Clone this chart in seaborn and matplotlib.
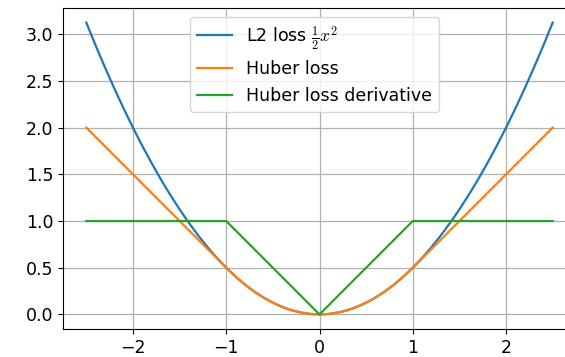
import numpy as np
import pandas as pd
import matplotlib
matplotlib.use("Agg")
import matplotlib.pyplot as plt
import seaborn as sns

# x sample positions
x = [-2.5, -2.4, -2.3, -2.2, -2.1, -2.0, -1.9, -1.8, -1.7, -1.6, -1.5, -1.4, -1.3,
     -1.2, -1.1, -1.0, -0.9, -0.8, -0.7, -0.6, -0.5, -0.4, -0.3, -0.2, -0.1, 0.0,
     0.1, 0.2, 0.3, 0.4, 0.5, 0.6, 0.7, 0.8, 0.9, 1.0, 1.1, 1.2, 1.3, 1.4, 1.5,
     1.6, 1.7, 1.8, 1.9, 2.0, 2.1, 2.2, 2.3, 2.4, 2.5]

l2_loss = [3.125, 2.88, 2.645, 2.42, 2.205, 2.0, 1.805, 1.62, 1.445, 1.28, 1.125,
           0.98, 0.845, 0.72, 0.605, 0.5, 0.405, 0.32, 0.245, 0.18, 0.125, 0.08,
           0.045, 0.02, 0.005, 0.0, 0.005, 0.02, 0.045, 0.08, 0.125, 0.18, 0.245,
           0.32, 0.405, 0.5, 0.605, 0.72, 0.845, 0.98, 1.125, 1.28, 1.445, 1.62,
           1.805, 2.0, 2.205, 2.42, 2.645, 2.88, 3.125]

huber_loss = [2.0, 1.9, 1.8, 1.7, 1.6, 1.5, 1.4, 1.3, 1.2, 1.1, 1.0, 0.9, 0.8,
              0.7, 0.6, 0.5, 0.405, 0.32, 0.245, 0.18, 0.125, 0.08, 0.045, 0.02,
              0.005, 0.0, 0.005, 0.02, 0.045, 0.08, 0.125, 0.18, 0.245, 0.32, 0.405,
              0.5, 0.6, 0.7, 0.8, 0.9, 1.0, 1.1, 1.2, 1.3, 1.4, 1.5, 1.6, 1.7, 1.8,
              1.9, 2.0]

huber_deriv = [1.0, 1.0, 1.0, 1.0, 1.0, 1.0, 1.0, 1.0, 1.0, 1.0, 1.0, 1.0, 1.0,
               1.0, 1.0, 1.0, 0.9, 0.8, 0.7, 0.6, 0.5, 0.4, 0.3, 0.2, 0.1, 0.0,
               0.1, 0.2, 0.3, 0.4, 0.5, 0.6, 0.7, 0.8, 0.9, 1.0, 1.0, 1.0, 1.0,
               1.0, 1.0, 1.0, 1.0, 1.0, 1.0, 1.0, 1.0, 1.0, 1.0, 1.0, 1.0]

labels = [r'L2 loss $\frac{1}{2}x^2$', 'Huber loss', 'Huber loss derivative']
xticks = [-2, -1, 0, 1, 2]
yticks = [0.0, 0.5, 1.0, 1.5, 2.0, 2.5, 3.0]

df = pd.DataFrame({
    'x': x * 3,
    'y': l2_loss + huber_loss + huber_deriv,
    'series': [labels[0]] * len(x) + [labels[1]] * len(x) + [labels[2]] * len(x),
})

plt.rcParams['font.family'] = ['DejaVu Sans']
plt.rcParams['mathtext.fontset'] = 'cm'
fig = plt.figure(figsize=(5.65, 3.57), dpi=100)
ax = fig.add_axes([63 / 565, 1 - 329 / 357, 513 / 565, (329 - 8) / 357])

palette = ['#1f77b4', '#ff7f0e', '#2ca02c']
sns.lineplot(data=df, x='x', y='y', hue='series', palette=palette, ax=ax,
             linewidth=1.6, sort=False, estimator=None)

ax.grid(True, color='#b0b0b0', linewidth=0.9)
ax.set_xticks(xticks)
ax.set_yticks(yticks)
ax.tick_params(labelsize=12.5)
ax.set_xlabel('')
ax.set_ylabel('')
ax.legend(loc='upper center', fontsize=12.5, bbox_to_anchor=(0.49, 1.0))

fig.savefig('out.png', dpi=100)
